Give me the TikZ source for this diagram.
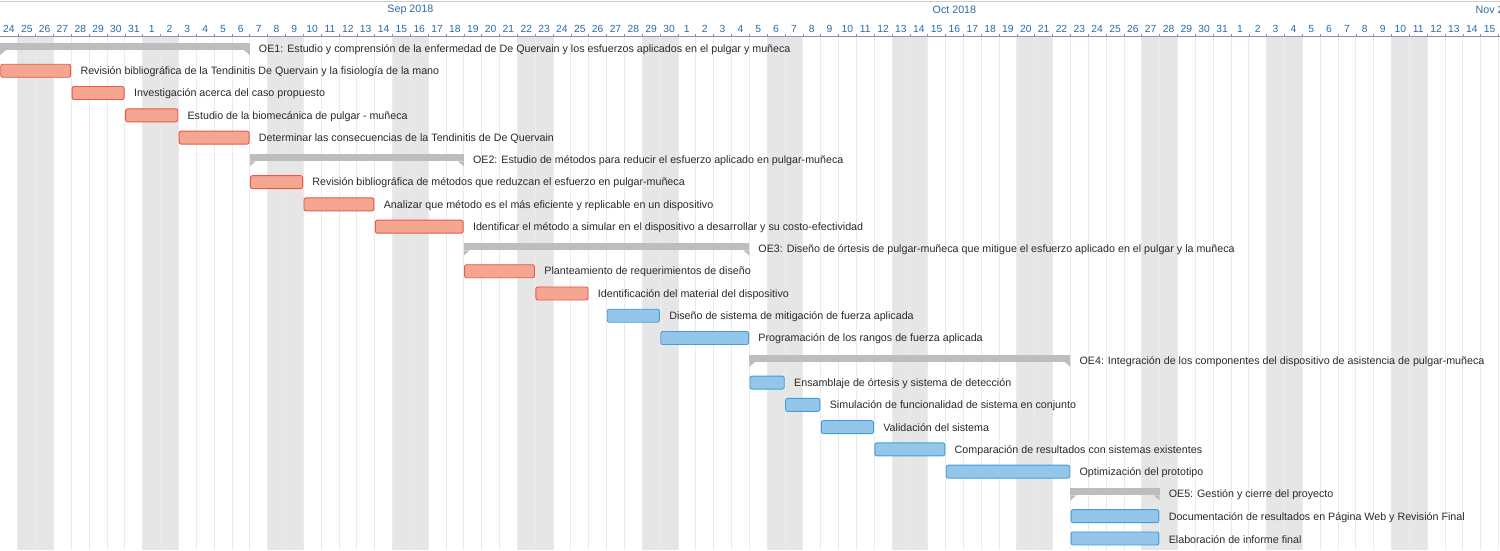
\documentclass[tikz,border=0pt]{standalone}
\usepackage{fontspec}
\setmainfont{Liberation Sans}
\definecolor{weekend}{HTML}{E6E6E6}
\definecolor{gridc}{HTML}{EBEBEB}
\definecolor{dayc}{HTML}{2D6AA3}
\definecolor{axisc}{HTML}{8C8FB5}
\definecolor{redfill}{HTML}{F4A690}
\definecolor{redline}{HTML}{E8574B}
\definecolor{bluefill}{HTML}{94C6EA}
\definecolor{blueline}{HTML}{3F9EDB}
\definecolor{sumc}{HTML}{BDBDBD}
\definecolor{txtc}{HTML}{2A2A2A}
\tikzset{
  redbar/.style={fill=redfill,draw=redline,line width=0.9pt,rounded corners=2pt},
  bluebar/.style={fill=bluefill,draw=blueline,line width=0.9pt,rounded corners=2pt},
  tasklabel/.style={anchor=west,inner sep=0pt,text=txtc,font=\fontsize{10.7}{13}\selectfont},
  daylabel/.style={inner sep=0pt,text=dayc,font=\fontsize{10.3}{12}\selectfont},
  monthlabel/.style={inner sep=0pt,text=dayc,font=\fontsize{10.7}{13}\selectfont},
}
\newcommand{\W}{17.84}
% \gtask{name}{row}{startcol}{endcol(exclusive)}{style}{text}
\newcommand{\gtask}[6]{%
  \pgfmathsetmacro\ya{48.5+22.27*#2}%
  \draw[#5] (#3*\W+0.7,\ya-6.5) rectangle (#4*\W-0.7,\ya+6.5);
  \node[tasklabel] (#1) at (#4*\W+9,\ya+1) {#6};
}
\newcommand{\gsum}[5]{%
  \pgfmathsetmacro\ya{48.5+22.27*#2}%
  \fill[sumc] (#3*\W,\ya-5.5) rectangle (#4*\W,\ya+1.5);
  \fill[sumc] (#3*\W,\ya+1.4) -- (#3*\W,\ya+6.5) -- (#3*\W+6,\ya+1.4) -- cycle;
  \fill[sumc] (#4*\W,\ya+1.4) -- (#4*\W,\ya+6.5) -- (#4*\W-6,\ya+1.4) -- cycle;
  \node[tasklabel] (#1) at (#4*\W+9,\ya+1) {#5};
}
\begin{document}
\begin{tikzpicture}[x=1pt,y=-1pt]
\useasboundingbox (0,0) rectangle (1500,550);
\fill[white] (0,0) rectangle (1500,550);
\begin{scope}
\clip (0,0) rectangle (1500,550);
% weekends
\foreach \i in {0,...,84}{
  \pgfmathtruncatemacro\m{mod(\i,7)}
  \ifnum\m=1 \fill[weekend] (\i*\W,37) rectangle ++(\W,513); \fi
  \ifnum\m=2 \fill[weekend] (\i*\W,37) rectangle ++(\W,513); \fi
}
% grid
\foreach \i in {1,...,84}{
  \draw[gridc,line width=0.8pt] (\i*\W,37) -- (\i*\W,550);
  \draw[axisc,line width=0.6pt] (\i*\W,36) -- (\i*\W,34);
}
% top line
\draw[gray!40,line width=1pt] (0,1) -- (1500,1);
% axis line
\draw[axisc,line width=1.2pt] (0,36.5) -- (1500,36.5);
% day labels
\foreach \i in {0,...,83}{
  \pgfmathtruncatemacro\d{\i<8 ? 24+\i : (\i<38 ? \i-7 : (\i<69 ? \i-37 : \i-68))}
  \node[daylabel] (d\i) at ({(\i+0.5)*\W},29) {\d};
}
% months
\node[monthlabel] (sep) at (23*\W,10) {Sep 2018};
\node[monthlabel] (oct) at (53.5*\W,10) {Oct 2018};
\node[monthlabel] (nov) at (84*\W,10) {Nov 2018};
\end{scope}
% tasks
\gsum{oe1}{0}{0}{14}{OE1: Estudio y comprensión de la enfermedad de De Quervain y los esfuerzos aplicados en el pulgar y muñeca}
\gtask{t1}{1}{0}{4}{redbar}{Revisión bibliográfica de la Tendinitis De Quervain y la fisiología de la mano}
\gtask{t2}{2}{4}{7}{redbar}{Investigación acerca del caso propuesto}
\gtask{t3}{3}{7}{10}{redbar}{Estudio de la biomecánica de pulgar - muñeca}
\gtask{t4}{4}{10}{14}{redbar}{Determinar las consecuencias de la Tendinitis de De Quervain}
\gsum{oe2}{5}{14}{26}{OE2: Estudio de métodos para reducir el esfuerzo aplicado en pulgar-muñeca}
\gtask{t5}{6}{14}{17}{redbar}{Revisión bibliográfica de métodos que reduzcan el esfuerzo en pulgar-muñeca}
\gtask{t6}{7}{17}{21}{redbar}{Analizar que método es el más eficiente y replicable en un dispositivo}
\gtask{t7}{8}{21}{26}{redbar}{Identificar el método a simular en el dispositivo a desarrollar y su costo-efectividad}
\gsum{oe3}{9}{26}{42}{OE3: Diseño de órtesis de pulgar-muñeca que mitigue el esfuerzo aplicado en el pulgar y la muñeca}
\gtask{t8}{10}{26}{30}{redbar}{Planteamiento de requerimientos de diseño}
\gtask{t9}{11}{30}{33}{redbar}{Identificación del material del dispositivo}
\gtask{t10}{12}{34}{37}{bluebar}{Diseño de sistema de mitigación de fuerza aplicada}
\gtask{t11}{13}{37}{42}{bluebar}{Programación de los rangos de fuerza aplicada}
\gsum{oe4}{14}{42}{60}{OE4: Integración de los componentes del dispositivo de asistencia de pulgar-muñeca}
\gtask{t12}{15}{42}{44}{bluebar}{Ensamblaje de órtesis y sistema de detección}
\gtask{t13}{16}{44}{46}{bluebar}{Simulación de funcionalidad de sistema en conjunto}
\gtask{t14}{17}{46}{49}{bluebar}{Validación del sistema}
\gtask{t15}{18}{49}{53}{bluebar}{Comparación de resultados con sistemas existentes}
\gtask{t16}{19}{53}{60}{bluebar}{Optimización del prototipo}
\gsum{oe5}{20}{60}{65}{OE5: Gestión y cierre del proyecto}
\gtask{t17}{21}{60}{65}{bluebar}{Documentación de resultados en Página Web y Revisión Final}
\gtask{t18}{22}{60}{65}{bluebar}{Elaboración de informe final}
\end{tikzpicture}
\end{document}
